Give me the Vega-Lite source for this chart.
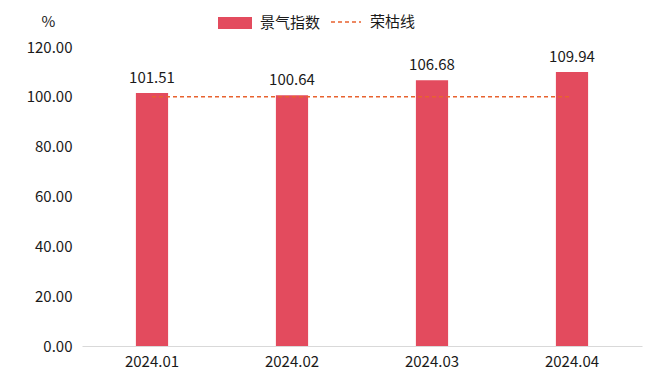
{
  "$schema": "https://vega.github.io/schema/vega-lite/v6.json",
  "width": 560,
  "height": 299,
  "autosize": "none",
  "padding": {"left": 82, "top": 47, "right": 18, "bottom": 43},
  "background": "white",
  "config": {
    "view": {"stroke": null},
    "font": "Noto Sans CJK SC"
  },
  "data": {"values": [
    {"month": "2024.01", "value": 101.51, "line": 100},
    {"month": "2024.02", "value": 100.64, "line": 100},
    {"month": "2024.03", "value": 106.68, "line": 100},
    {"month": "2024.04", "value": 109.94, "line": 100}
  ]},
  "encoding": {
    "x": {"field": "month", "type": "nominal", "sort": null,
      "scale": {"paddingInner": 0.77, "paddingOuter": 0.385},
      "axis": {"title": null, "labelAngle": 0, "labelFontSize": 15, "labelColor": "#1a1a1a", "labelPadding": 8, "ticks": false, "domainColor": "#d9d9d9", "domainWidth": 1.2}}
  },
  "layer": [
    {
      "mark": {"type": "bar", "color": "#E34B5E"},
      "encoding": {
        "y": {"field": "value", "type": "quantitative",
          "scale": {"domain": [0, 120]},
          "axis": {"title": "%", "titleAngle": 0, "titleX": -34, "titleY": -26, "titleAlign": "center", "titleBaseline": "middle", "titleFontSize": 15, "titleFontWeight": "normal", "titleColor": "#1a1a1a",
            "values": [0, 20, 40, 60, 80, 100, 120], "format": ".2f", "grid": false, "domain": false, "ticks": false, "labelFontSize": 15, "labelColor": "#1a1a1a", "labelPadding": 10}},
        "color": {"datum": "景气指数", "scale": {"range": ["#E34B5E"]},
          "legend": {"title": null, "orient": "none", "legendX": 136, "legendY": -41, "labelFontSize": 15, "labelColor": "#1a1a1a", "symbolType": "M-1,-0.353L1,-0.353L1,0.353L-1,0.353Z", "symbolSize": 1156, "symbolOpacity": 1, "symbolStrokeWidth": 0, "labelOffset": 8}}
      }
    },
    {
      "mark": {"type": "text", "baseline": "middle", "dy": -15, "fontSize": 15, "color": "#1a1a1a"},
      "encoding": {
        "y": {"field": "value", "type": "quantitative"},
        "text": {"field": "value", "type": "quantitative", "format": ".2f"}
      }
    },
    {
      "mark": {"type": "line", "strokeDash": [4, 3], "strokeWidth": 1.5},
      "encoding": {
        "y": {"field": "line", "type": "quantitative"},
        "stroke": {"datum": "荣枯线", "scale": {"range": ["#E8622F"]},
          "legend": {"title": null, "orient": "none", "legendX": 248, "legendY": -41, "labelFontSize": 15, "labelColor": "#1a1a1a", "symbolType": "stroke", "symbolSize": 900, "symbolDash": [4, 3], "symbolStrokeWidth": 1.5, "labelOffset": 8}}
      }
    }
  ],
  "resolve": {"scale": {"y": "shared"}}
}
